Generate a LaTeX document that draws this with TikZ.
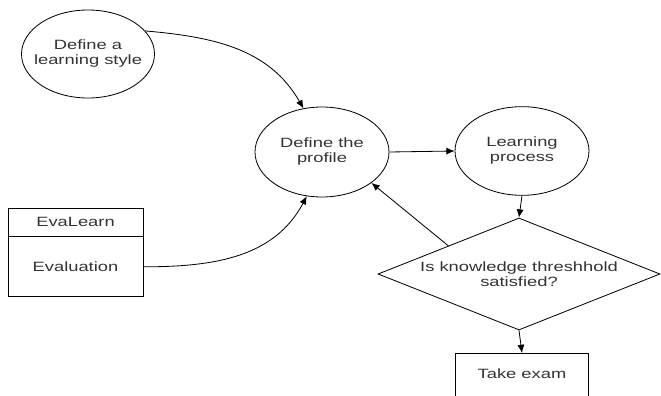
\documentclass[tikz,border=0pt]{standalone}
\usepackage{fontspec}
\setmainfont[FakeStretch=1.36]{Liberation Sans}
\usepackage{tikz}
\usetikzlibrary{positioning}
\usetikzlibrary{shapes.geometric}
\usetikzlibrary{arrows.meta}
\tikzset{
  bubble/.style={draw, ellipse, inner xsep=-0.25cm, inner ysep=0pt, minimum width=4.02cm, minimum height=2.66cm, align=center},
  box/.style={draw, rectangle, inner sep=0pt, minimum width=4.05cm, align=center},
  decision/.style={draw, diamond, aspect=2.5, inner sep=0pt, minimum width=8.46cm, minimum height=3.36cm, align=center},
  flow/.style={-{Latex[length=7pt,width=6pt]}}
}
\begin{document}
\begin{tikzpicture}[x=0.03cm, y=-0.03cm, line width=0.7pt, font=\fontsize{11.5}{12.8}\selectfont, text=black!80]
\useasboundingbox (0,0) rectangle (661,396);
\node[bubble, minimum width=3.99cm, minimum height=2.64cm] (lstyle) at (88,54) {Define a\\learning style};
\node[bubble, minimum height=2.7cm] (profile) at (322,152) {Define the\\profile};
\node[bubble] (lproc) at (522,151) {Learning\\process};
\node[decision] (dec) at (519,274) {Is knowledge threshhold\\satisfied?};
\node[box, anchor=north, minimum width=3.99cm, text height=0.3cm, text depth=1.5cm, inner ysep=0.45cm] (exam) at (522,353) {Take exam};
\node[box, minimum height=0.84cm] (evahead) at (75.5,222) {EvaLearn};
\node[box, minimum height=1.8cm, below=0pt of evahead] (evabody) {Evaluation};
% connectors
\draw[flow] (lstyle.22) to[out=-5, in=120] (profile.113);
\draw[flow] (evabody.east) to[out=0, in=-118] (profile.-109);
\draw[flow] (profile.east) -- (lproc.west);
\draw[flow] (lproc.south) -- (dec.north);
\draw[flow] (dec.north west) -- (profile.-32);
\draw[flow] (dec.south) -- (exam.north);
\end{tikzpicture}
\end{document}
